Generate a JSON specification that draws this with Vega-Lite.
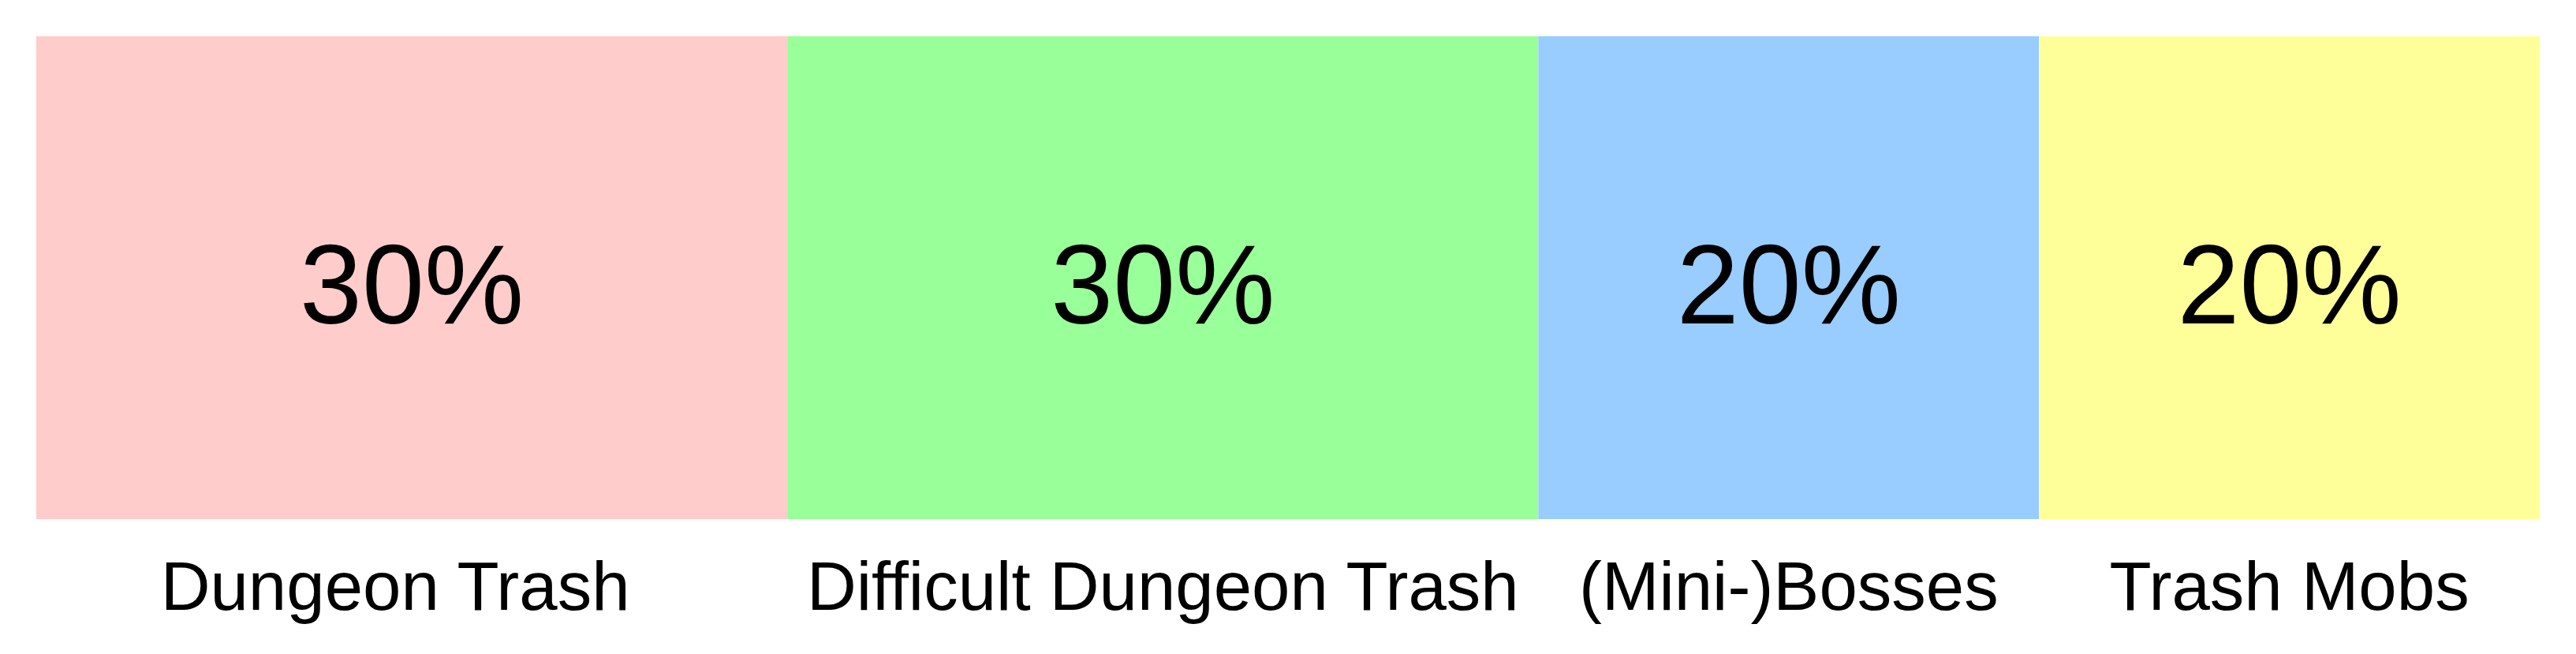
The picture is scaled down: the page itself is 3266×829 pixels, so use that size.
{
  "$schema": "https://vega.github.io/schema/vega-lite/v6.json",
  "description": "Share of loot sources as one horizontal stacked bar.",
  "width": 3174,
  "height": 783,
  "autosize": {"type": "none"},
  "padding": {"left": 46, "top": 46, "right": 46, "bottom": 0},
  "background": "white",
  "view": {"stroke": null},
  "config": {"font": "Liberation Sans"},
  "data": {
    "values": [
      {"rank": 1, "category": "Dungeon Trash", "share": 0.3},
      {"rank": 2, "category": "Difficult Dungeon Trash", "share": 0.3},
      {"rank": 3, "category": "(Mini-)Bosses", "share": 0.2},
      {"rank": 4, "category": "Trash Mobs", "share": 0.2}
    ]
  },
  "transform": [
    {"stack": "share", "groupby": [], "sort": [{"field": "rank", "order": "ascending"}], "as": ["start", "end"]}
  ],
  "layer": [
    {
      "mark": {"type": "bar", "tooltip": true},
      "encoding": {
        "x": {"field": "start", "type": "quantitative", "scale": {"domain": [0, 1], "nice": false, "zero": false}, "axis": null},
        "x2": {"field": "end"},
        "y": {"datum": 1, "type": "quantitative", "scale": {"domain": [-0.2794, 1], "nice": false, "zero": false}, "axis": null},
        "y2": {"datum": 0},
        "color": {
          "field": "category",
          "type": "nominal",
          "scale": {
            "domain": ["Dungeon Trash", "Difficult Dungeon Trash", "(Mini-)Bosses", "Trash Mobs"],
            "range": ["#FFCCCC", "#99FF99", "#99CCFF", "#FFFF99"]
          },
          "legend": null
        }
      }
    },
    {
      "transform": [{"fold": ["start", "end"], "as": ["edge", "pos"]}],
      "mark": {"type": "text", "fontSize": 142, "baseline": "alphabetic", "align": "center", "color": "black"},
      "encoding": {
        "x": {"aggregate": "mean", "field": "pos", "type": "quantitative"},
        "y": {"datum": 0.405, "type": "quantitative"},
        "detail": {"field": "category", "type": "nominal"},
        "text": {"field": "share", "type": "quantitative", "format": ".0%"}
      }
    },
    {
      "transform": [{"filter": "datum.rank == 1"}, {"fold": ["start", "end"], "as": ["edge", "pos"]}],
      "mark": {"type": "text", "fontSize": 87, "baseline": "alphabetic", "align": "center", "color": "black", "dx": -21},
      "encoding": {
        "x": {"aggregate": "mean", "field": "pos", "type": "quantitative"},
        "y": {"datum": -0.188, "type": "quantitative"},
        "text": {"field": "category", "type": "nominal"}
      }
    },
    {
      "transform": [{"filter": "datum.rank > 1"}, {"fold": ["start", "end"], "as": ["edge", "pos"]}],
      "mark": {"type": "text", "fontSize": 87, "baseline": "alphabetic", "align": "center", "color": "black"},
      "encoding": {
        "x": {"aggregate": "mean", "field": "pos", "type": "quantitative"},
        "y": {"datum": -0.188, "type": "quantitative"},
        "text": {"field": "category", "type": "nominal"}
      }
    }
  ]
}
